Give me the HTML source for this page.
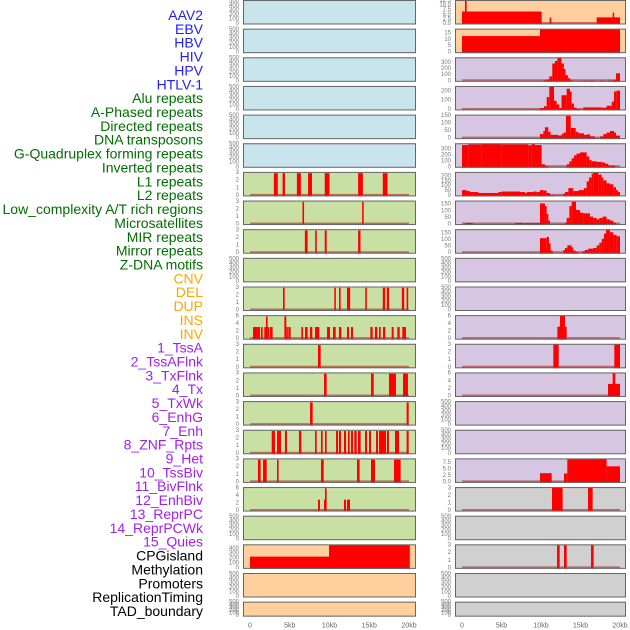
<!DOCTYPE html>
<html><head><meta charset="utf-8">
<style>
html,body{margin:0;padding:0;background:#fff;}
svg{display:block;}
</style></head>
<body>
<svg id="chart" width="630" height="630" viewBox="0 0 630 630" font-family="Liberation Sans, sans-serif"></svg>
<script>
const labels = ["AAV2","EBV","HBV","HIV","HPV","HTLV-1","Alu repeats","A-Phased repeats","Directed repeats","DNA transposons","G-Quadruplex forming repeats","Inverted repeats","L1 repeats","L2 repeats","Low_complexity A/T rich regions","Microsatellites","MIR repeats","Mirror repeats","Z-DNA motifs","CNV","DEL","DUP","INS","INV","1_TssA","2_TssAFlnk","3_TxFlnk","4_Tx","5_TxWk","6_EnhG","7_Enh","8_ZNF_Rpts","9_Het","10_TssBiv","11_BivFlnk","12_EnhBiv","13_ReprPC","14_ReprPCWk","15_Quies","CPGisland","Methylation","Promoters","ReplicationTiming","TAD_boundary"];
const groups = ["virus","virus","virus","virus","virus","virus","repeat","repeat","repeat","repeat","repeat","repeat","repeat","repeat","repeat","repeat","repeat","repeat","repeat","sv","sv","sv","sv","sv","state","state","state","state","state","state","state","state","state","state","state","state","state","state","state","other","other","other","other","other"];
const xTickValues = [0,5,10,15,20];
const xTickLabels = ["0","5kb","10kb","15kb","20kb"];

// bars: [startKb, endKb, value]
const alu = [[3.0,3.5,3],[4.1,4.4,3],[5.9,6.4,3],[7.3,7.8,3],[9.4,10.0,3],[13.6,14.2,3],[16.7,17.3,3]];
const aPhased = [[6.6,6.8,3],[14.1,14.3,3]];
const directed = [[6.9,7.25,3],[8.2,8.4,3],[9.4,9.65,3],[13.6,13.9,3]];
const gQuad = [[4.15,4.36,3],[10.6,10.8,3],[11.2,11.4,3],[12.2,12.6,3],[14.5,14.7,3],[16.7,17.0,3],[17.2,17.5,3],[19.1,19.4,3],[19.7,19.9,3]];
const inverted = [[0.38,0.96,3.2],[0.96,1.26,3.2],[1.38,1.59,3.2],[1.8,2.01,3.2],[2.01,2.22,6],[2.22,2.43,3.2],[2.52,2.85,3.2],[4.32,4.57,6],[4.57,4.65,3.2],[4.82,5.12,3.2],[6.46,6.67,3.2],[6.92,7.25,3.2],[7.55,7.84,3.2],[8.18,8.72,3.2],[9.69,10.06,3.2],[10.44,10.78,3.2],[11.19,11.49,3.2],[12.2,12.45,3.2],[12.7,12.96,3.2],[15.14,15.43,3.2],[15.72,16.02,3.2],[16.23,16.44,3.2],[16.73,17.02,3.2],[17.82,18.07,3.2],[18.53,18.83,3.2],[19.16,19.62,3.2]];
const l1 = [[8.55,8.89,3]];
const l2 = [[9.31,9.64,3],[15.22,15.56,3],[17.48,18.36,3],[19.25,19.87,3]];
const lowComplexity = [[7.55,7.88,3],[19.7,19.96,3]];
const microsat = [[2.73,3.14,3],[3.4,3.9,3],[4.4,4.65,3],[6.16,6.46,3],[8.18,8.39,3],[8.93,9.14,3],[9.43,9.64,3],[10.82,11.07,3],[11.19,11.45,3],[11.82,12.08,3],[12.33,12.54,3],[12.7,12.96,3],[13.12,13.42,3],[13.58,13.92,3],[14.47,14.72,3],[14.97,15.22,3],[15.85,16.1,3],[16.23,17.11,3],[17.23,17.48,3],[18.24,18.74,3],[19.7,19.96,3]];
const mir = [[1.0,1.34,3],[1.64,2.1,3],[3.4,3.6,3],[8.93,9.27,3],[13.46,13.79,3],[15.22,15.72,3],[18.11,18.95,3]];
const mirror = [[8.55,8.8,3],[9.31,9.43,3],[9.43,9.64,6],[11.82,12.08,3],[12.2,12.58,3]];
const cnv = [[0,9.94,240],[9.94,20.1,480]];
const ins = [[0,10.08,6.8],[0.38,0.59,12.8],[11.1,11.3,3.5],[17.05,20.0,3.6],[19.07,19.24,6.2]];
const inv = [[0,9.87,12.9],[9.87,20,18.3]];
const tssA = [[10.3,10.7,16],[10.7,11.05,30],[11.05,11.43,80],[11.43,11.77,290],[11.77,12.07,330],[12.07,12.6,380],[12.6,12.9,290],[12.9,13.1,200],[13.1,13.4,100],[13.4,13.7,50],[13.7,14.0,15],[15.36,15.8,10],[16.0,16.7,10],[17.47,17.9,10],[18.5,19.16,10],[19.16,19.5,25],[19.5,20.0,130]];
const tssAFlnk = [[9.87,10.38,20],[10.38,10.72,40],[10.72,11.05,140],[11.05,11.65,250],[11.65,11.98,100],[11.98,12.32,60],[12.32,12.6,20],[12.6,13.25,160],[13.25,13.67,230],[13.67,13.88,200],[13.88,14.18,70],[14.18,14.5,25],[14.5,14.94,10],[15.36,17.68,28],[17.68,18.3,25],[18.3,18.95,45],[18.95,19.24,90],[19.24,19.58,200],[19.58,20.0,210]];
const txFlnk = [[9.87,10.3,30],[10.3,10.5,50],[10.5,10.93,75],[10.93,11.22,45],[11.22,12.2,25],[12.2,12.6,20],[12.6,12.83,30],[12.83,13.16,40],[13.16,13.76,150],[13.76,14.39,70],[14.39,14.73,45],[14.73,15.44,35],[15.44,15.78,25],[15.78,16.2,28],[16.2,16.84,15],[17.47,17.9,15],[17.9,18.3,30],[18.3,18.73,40],[18.73,19.24,50],[19.24,19.49,40],[19.49,20.0,20]];
const tx = [[0,0.8,373],[0.8,2.49,385],[2.49,5.02,392],[5.02,8.4,385],[8.4,8.82,370],[8.82,9.24,390],[9.24,10.08,373],[10.08,10.5,50],[10.5,10.8,25],[10.8,10.93,10],[13.25,13.59,50],[13.59,13.88,100],[13.88,14.18,150],[14.18,14.5,200],[14.5,14.94,230],[14.94,15.78,250],[15.78,16.12,180],[16.12,16.41,120],[16.41,17.05,100],[17.05,17.68,90],[17.68,18.1,80],[18.1,18.52,60],[18.52,19.37,30]];
const txWk = [[0,0.59,60],[0.59,1.01,50],[1.01,2.07,40],[2.07,4.6,30],[4.6,5.02,40],[5.02,7.34,45],[7.34,7.97,40],[7.97,8.19,30],[8.19,9.03,40],[9.03,9.45,45],[9.45,9.87,40],[9.87,10.3,60],[10.3,10.72,55],[10.72,11.14,30],[11.14,11.56,10],[12.83,13.04,25],[13.04,13.46,40],[13.46,14.09,80],[14.09,14.73,50],[14.73,15.44,60],[15.44,15.78,80],[15.78,16.08,150],[16.08,16.41,190],[16.41,16.62,230],[16.62,17.26,243],[17.26,17.68,220],[17.68,17.9,190],[17.9,18.3,160],[18.3,18.73,130],[18.73,19.16,120],[19.16,19.49,90],[19.49,19.75,60],[19.75,20.0,40]];
const enhG = [[0.38,1.35,12],[6.71,7.76,12],[7.89,9.87,10],[9.87,10.5,160],[10.5,10.72,140],[10.72,10.93,80],[10.93,11.14,30],[13.04,13.25,15],[13.25,13.59,50],[13.59,13.88,140],[13.88,14.43,172],[14.43,14.94,110],[14.94,15.36,90],[15.36,16.2,85],[16.2,16.62,60],[16.62,17.05,50],[17.05,17.38,40],[17.38,17.8,50],[17.8,18.3,60],[18.3,18.73,40],[18.73,19.16,30],[19.16,19.49,15]];
const enh = [[9.87,10.72,115],[10.72,11.01,125],[11.01,11.22,75],[11.22,11.48,20],[12.83,13.04,25],[13.04,13.33,40],[13.33,13.88,60],[13.88,14.09,45],[14.09,14.39,20],[14.39,14.73,10],[15.27,15.57,15],[15.57,15.99,25],[15.99,16.62,35],[16.62,17.05,40],[17.05,17.38,60],[17.38,17.68,80],[17.68,17.97,110],[17.97,18.23,150],[18.23,18.73,180],[18.73,19.16,160],[19.16,19.58,140],[19.58,20.0,130]];
const tssBiv = [[12.07,13.25,3.3],[12.4,13.04,6.2]];
const bivFlnk = [[11.56,12.24,3.1],[19.28,20.0,3.1]];
const enhBiv = [[18.48,20.0,3.3],[19.07,19.41,6.2]];
const quies = [[9.87,11.35,3.6],[12.91,13.33,3.5],[13.33,18.31,9.2],[18.31,20.0,6.3]];
const cpg = [[11.39,12.74,3.1],[15.95,16.54,3.1]];
const promoters = [[12.03,12.36,3.1],[12.91,13.25,3.1],[16.33,16.67,3.1]];

const blankTicks = ["0","100","200","300","400","500"];
const t3 = ["0","1","2","3"], t6 = ["0","2","4","6"];
// [bars, ymax, tick labels]
const panelBars = [null,null,null,null,null,null,alu,aPhased,directed,null,gQuad,inverted,l1,l2,lowComplexity,microsat,mir,mirror,null,cnv,null,null,
  ins,inv,tssA,tssAFlnk,txFlnk,tx,txWk,enhG,enh,null,null,tssBiv,bivFlnk,enhBiv,null,null,quies,cpg,null,promoters,null,null];
const panelYmax = [520,520,520,520,520,520,3.1,3.1,3.1,520,3.1,6.2,3.1,3.1,3.1,3.1,3.1,6.2,520,480,520,520,
  12.8,18.3,382,255,155,395,243,178,180,520,520,6.2,3.1,6.2,520,520,9.2,3.1,520,3.1,520,520];
const panelTicks = [blankTicks,blankTicks,blankTicks,blankTicks,blankTicks,blankTicks,t3,t3,t3,blankTicks,t3,t6,t3,t3,t3,t3,t3,t6,blankTicks,["0","100","200","300","400"],blankTicks,blankTicks,
  ["0.0","2.5","5.0","7.5","10.0","12.5"],["0","5","10","15"],["0","100","200","300"],["0","100","200"],["0","50","100","150"],["0","100","200","300"],["0","50","100","150","200"],["0","50","100","150"],["0","50","100","150"],blankTicks,blankTicks,t6,t3,t6,blankTicks,blankTicks,["0.0","2.5","5.0","7.5"],t3,blankTicks,t3,blankTicks,blankTicks];

const NS = "http://www.w3.org/2000/svg";
const svg = document.getElementById("chart");
const groupColor = {virus:"#1e1eff",repeat:"#006e00",sv:"#ffa500",state:"#a020f0",other:"#000"};
const bgColor = {virus:"#c8e4ec",repeat:"#c8e0a4",sv:"#ffd09e",state:"#d6c6e2",other:"#d0d0d0"};
const cols = [{x:243,w:173,x0:250,k:7.95},{x:455,w:171,x0:462,k:7.9}];
function mk(tag, attrs){const e=document.createElementNS(NS,tag);for(const a in attrs)e.setAttribute(a,attrs[a]);return e;}
function slug(s){return s.toLowerCase().replace(/[^a-z0-9]+/g,'-').replace(/^-|-$/g,'');}

labels.forEach((lab,i)=>{
  const t = mk("text",{x:203,y:15+i*13.86,"text-anchor":"end","dominant-baseline":"central","font-size":"14",fill:groupColor[groups[i]]});
  t.textContent = lab;
  
  
  svg.appendChild(t);
});

for(let i=0;i<44;i++){
  const c = cols[i<22?0:1];
  const row = i%22;
  const top = row*28.65;
  const h = row===21?15:24.5;
  const bottom = top+h;
  const xs = kb => c.x0 + kb*c.k;
  const ymax = panelYmax[i];
  const ys = v => bottom - 0.5 - v/ymax*(h-1);
  const g = mk("g",{});
  
  
  const bg = mk("rect",{x:c.x,y:top,width:c.w,height:h,fill:bgColor[groups[i]]});
  
  
  g.appendChild(bg);
  const bars = panelBars[i];
  if(bars){
    const base = mk("line",{x1:xs(0),x2:xs(20),y1:bottom-1.5,y2:bottom-1.5,stroke:"rgba(170,40,40,0.6)","stroke-width":2});
    
    
    g.appendChild(base);
    bars.forEach(b=>{
      const y = Math.max(top, ys(b[2]));
      const r = mk("rect",{x:xs(b[0]),y:y,width:Math.max(1.5,xs(b[1])-xs(b[0])),height:bottom-y,fill:"#ff0000"});
      
      
      g.appendChild(r);
    });
  }
  const border = mk("rect",{x:c.x+0.5,y:top+0.5,width:c.w-1,height:h-1,fill:"none",stroke:"#666","stroke-width":1});
  
  
  g.appendChild(border);
  const ticks = panelTicks[i];
  ticks.forEach(tl=>{
    const v = parseFloat(tl);
    const t = mk("text",{x:c.x-4,y:ys(v),"text-anchor":"end","dominant-baseline":"central","font-size":"6",fill:"#777"});
    t.textContent = tl;
    
    
    g.appendChild(t);
  });
  svg.appendChild(g);
}

cols.forEach((c,ci)=>{
  xTickValues.forEach((v,j)=>{
    const t = mk("text",{x:c.x0+v*c.k,y:626,"text-anchor":"middle","dominant-baseline":"central","font-size":"7",fill:"#666"});
    t.textContent = xTickLabels[j];
    
    
    svg.appendChild(t);
  });
});
</script>
</body></html>
